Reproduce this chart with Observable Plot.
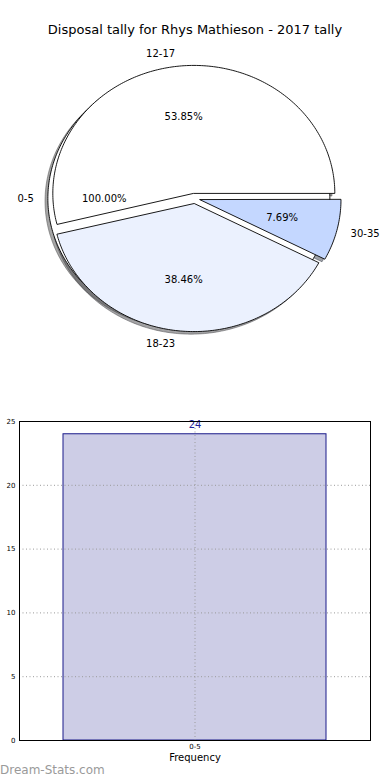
<!DOCTYPE html>
<html>
<head>
<meta charset="utf-8">
<script src="https://cdn.jsdelivr.net/npm/d3@7"></script>
<script src="https://cdn.jsdelivr.net/npm/@observablehq/plot@0.6"></script>
<style>
  body { margin: 0; background: #fff; font-family: "DejaVu Sans", sans-serif; }
  #wrap { position: relative; width: 390px; height: 780px; overflow: hidden; }
  #title { position: absolute; left: 0; top: 21px; width: 390px; text-align: center; font-size: 13px; line-height: 18px; color: #000; }
  #pie { position: absolute; left: 0; top: 0; }
  #bar { position: absolute; left: 0; top: 400px; }
  #credit { position: absolute; left: 0; top: 762px; font-size: 12px; line-height: 16px; color: #9a9a9a; }
  svg { overflow: visible; }
</style>
</head>
<body>
<div id="wrap">
  <div id="pie"></div>
  <div id="title">Disposal tally for Rhys Mathieson - 2017 tally</div>
  <div id="bar"></div>
  <div id="credit">Dream-Stats.com</div>
</div>
<script>
// ---- data ----
const fullCategories = ["0-5"];
const fullValues = [24];
const fullColors = ["#ffffff"];

const pieCategories = ["12-17", "18-23", "30-35"];
const pieValues = [7, 5, 1];
const pieColors = ["#ffffff", "#ebf1fe", "#c4d7ff"];

const barCategories = ["0-5"];
const barValues = [24];
const yTicks = [0, 5, 10, 15, 20, 25];

const explode = 0.04;
const font = "DejaVu Sans";

function buildPie(labels, values, colors) {
  const total = d3.sum(values);
  let start = 0;
  return values.map((v, i) => {
    const span = v / total * 360;
    const t1 = start;
    start += span;
    const mid = (t1 + span / 2) * Math.PI / 180;
    const cx = explode * Math.cos(mid), cy = explode * Math.sin(mid);
    const full = Math.abs(span - 360) < 1e-9;
    const pts = [];
    if (!full) pts.push({x: cx, y: cy});
    const n = Math.max(2, Math.ceil(span));
    for (let k = 0; k <= n; k++) {
      if (full && k === n) break;
      const a = (t1 + span * k / n) * Math.PI / 180;
      pts.push({x: cx + Math.cos(a), y: cy + Math.sin(a)});
    }
    return {label: labels[i], color: colors[i], pct: (v / total * 100).toFixed(2) + "%", pts, cx, cy, mid};
  });
}

const wedges = [
  ...buildPie(fullCategories, fullValues, fullColors),
  ...buildPie(pieCategories, pieValues, pieColors)
];

function shade(c) {
  const r = d3.rgb(c);
  return d3.rgb(r.r * 0.3, r.g * 0.3, r.b * 0.3).formatHex();
}

const shadowMarks = wedges.map(w => Plot.line(w.pts, {
  x: d => d.x - 0.02, y: d => d.y - 0.02, curve: "linear-closed",
  fill: shade(w.color), fillOpacity: 0.5, stroke: shade(w.color), strokeOpacity: 0.5, strokeWidth: 1
}));
const wedgeMarks = wedges.map(w => Plot.line(w.pts, {
  x: "x", y: "y", curve: "linear-closed", fill: w.color, stroke: "#000", strokeWidth: 0.9
}));

const labelData = wedges.map(w => ({
  x: w.cx + 1.1 * Math.cos(w.mid), y: w.cy + 1.1 * Math.sin(w.mid), text: w.label
}));
const pctData = wedges.map(w => ({
  x: w.cx + 0.6 * Math.cos(w.mid), y: w.cy + 0.6 * Math.sin(w.mid), text: w.pct
}));

const pie = Plot.plot({
  width: 390, height: 400,
  marginTop: 0, marginRight: 0, marginBottom: 0, marginLeft: 0,
  x: {type: "linear", domain: [-1, 1], range: [53, 335]},
  y: {type: "linear", domain: [-1, 1], range: [326, 70]},
  axis: null,
  style: {fontFamily: font, background: "transparent"},
  marks: [
    ...shadowMarks,
    ...wedgeMarks,
    Plot.text(labelData.filter(d => d.x > 0), {x: "x", y: "y", text: "text", textAnchor: "start", fontSize: 10, fill: "#000"}),
    Plot.text(labelData.filter(d => d.x <= 0), {x: "x", y: "y", text: "text", textAnchor: "end", fontSize: 10, fill: "#000"}),
    Plot.text(pctData, {x: "x", y: "y", text: "text", textAnchor: "middle", fontSize: 10, fill: "#000"})
  ]
});
document.getElementById("pie").appendChild(pie);

const barData = barCategories.map((c, i) => ({cat: c, count: barValues[i]}));

const bar = Plot.plot({
  width: 390, height: 380,
  marginTop: 21, marginRight: 20, marginBottom: 40, marginLeft: 19,
  style: {fontFamily: font, background: "transparent"},
  x: {domain: barCategories, paddingInner: 0, paddingOuter: 0.1667, label: null},
  y: {domain: [0, 25], ticks: yTicks, label: null},
  marks: [
    Plot.barY(barData, {x: "cat", y: "count", fill: "#cdcde6", stroke: "#1a1a8a", strokeWidth: 1}),
    Plot.gridY(yTicks, {stroke: "#9a9a9a", strokeOpacity: 1, strokeDasharray: "1,2.5"}),
    Plot.gridX(barCategories, {stroke: "#9a9a9a", strokeOpacity: 1, strokeDasharray: "1,2.5"}),
    Plot.axisY(yTicks, {tickSize: 0, tickPadding: 4, fontSize: 7, label: null, tickFormat: d => d}),
    Plot.axisX({tickSize: 0, tickPadding: 4, fontSize: 7, label: null}),
    Plot.text(barData, {x: "cat", y: "count", text: d => String(d.count), dy: -9, fontSize: 10, fill: "#22229a"}),
    Plot.text(["Frequency"], {frameAnchor: "bottom", dy: 20, fontSize: 10, fill: "#000"}),
    Plot.frame({stroke: "#000", strokeWidth: 1})
  ]
});
document.getElementById("bar").appendChild(bar);
</script>
</body>
</html>
